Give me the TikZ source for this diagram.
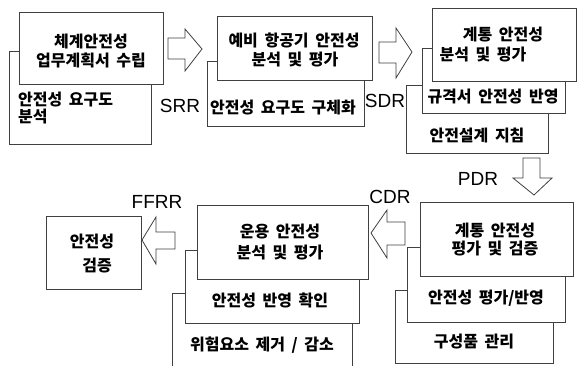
\documentclass[tikz,border=0pt]{standalone}
\usepackage{fontspec}
\setmainfont{Liberation Sans}
\newfontfamily\kr[WordSpace=1.8]{Noto Sans CJK KR}
\begin{document}
\begin{tikzpicture}[x=1pt,y=-1pt,
  box/.style={draw=black!75, line width=0.8pt, fill=white},
  barrow/.style={draw=black!75, line width=0.8pt, fill=white, line join=miter},
  kt/.style={font=\kr\bfseries\fontsize{16}{19}\selectfont, inner sep=0pt},
  lab/.style={font=\fontsize{19}{22}\selectfont, inner sep=0pt}]
\useasboundingbox (0,0) rectangle (581,365);
\fill[white] (0,0) rectangle (581,365);
% ---- box group 1
\draw[box] (9,51) rectangle (151,144);
\draw[box] (19,12) rectangle (163,84);
\node[kt] (b1a) at (91,42) {체계안전성};
\node[kt] (b1b) at (91,60) {업무계획서 수립};
\node[kt,anchor=west] (b1c) at (18,100) {안전성 요구도};
\node[kt,anchor=west] (b1d) at (18,117) {분석};
% arrow 1
\draw[barrow] (168,38) -- (185,38) -- (185,29) -- (202,49) -- (185,71) -- (185,59) -- (168,59) -- cycle;
\node[lab] (srr) at (180,106) {SRR};
% ---- box group 2
\draw[box] (207,61) rectangle (364,126);
\draw[box] (217,16) rectangle (372,80);
\node[kt] (b2a) at (294,40) {예비 항공기 안전성};
\node[kt] (b2b) at (295,60) {분석 및 평가};
\node[kt] (b2c) at (283,108) {안전성 요구도 구체화};
% arrow 2
\draw[barrow] (379,42) -- (396,42) -- (396,28) -- (412,52) -- (396,78) -- (396,63) -- (379,63) -- cycle;
\node[lab] (sdr) at (385,101) {SDR};
% ---- box group 3
\draw[box] (406,85) rectangle (548,153);
\draw[box] (422,48) rectangle (565,113);
\draw[box] (432,8) rectangle (576,81);
\node[kt] (b3a) at (503,35) {계통 안전성};
\node[kt] (b3b) at (483,55) {분석 및 평가};
\node[kt] (b3c) at (493,97) {규격서 안전성 반영};
\node[kt] (b3d) at (477,135) {안전설계 지침};
% down arrow
\draw[barrow] (523,158) -- (540,158) -- (540,178) -- (552,178) -- (534,195) -- (513,178) -- (523,178) -- cycle;
\node[lab] (pdr) at (478,179) {PDR};
% ---- box group 4
\draw[box] (395,290) rectangle (553,363);
\draw[box] (407,247) rectangle (565,322);
\draw[box] (420,202) rectangle (573,276);
\node[kt] (b4a) at (495,231) {계통 안전성};
\node[kt] (b4b) at (495,249) {평가 및 검증};
\node[kt] (b4c) at (486,298) {안전성 평가/반영};
\node[kt] (b4d) at (474,342) {구성품 관리};
% CDR arrow
\draw[barrow] (405,222) -- (387,222) -- (387,210) -- (371,233) -- (387,258) -- (387,245) -- (405,245) -- cycle;
\node[lab] (cdr) at (390,197) {CDR};
% ---- box group 5
\draw[box] (172,367) -- (172,293) -- (352,293) -- (352,367);
\draw[box] (185,250) rectangle (359,323);
\draw[box] (197,205) rectangle (368,279);
\node[kt] (b5a) at (280,232) {운용 안전성};
\node[kt] (b5b) at (280,253) {분석 및 평가};
\node[kt] (b5c) at (270,300) {안전성 반영 확인};
\node[kt] (b5d) at (262,345) {위험요소 제거 / 감소};
% FFRR arrow
\draw[barrow] (175,232) -- (156,232) -- (156,217) -- (142,240) -- (156,264) -- (156,249) -- (175,249) -- cycle;
\node[lab] (ffrr) at (157,202) {FFRR};
% ---- box 6
\draw[box] (46,216) rectangle (141,289);
\node[kt] (b6a) at (92,242) {안전성};
\node[kt] (b6b) at (97,266) {검증};
\end{tikzpicture}
\end{document}
